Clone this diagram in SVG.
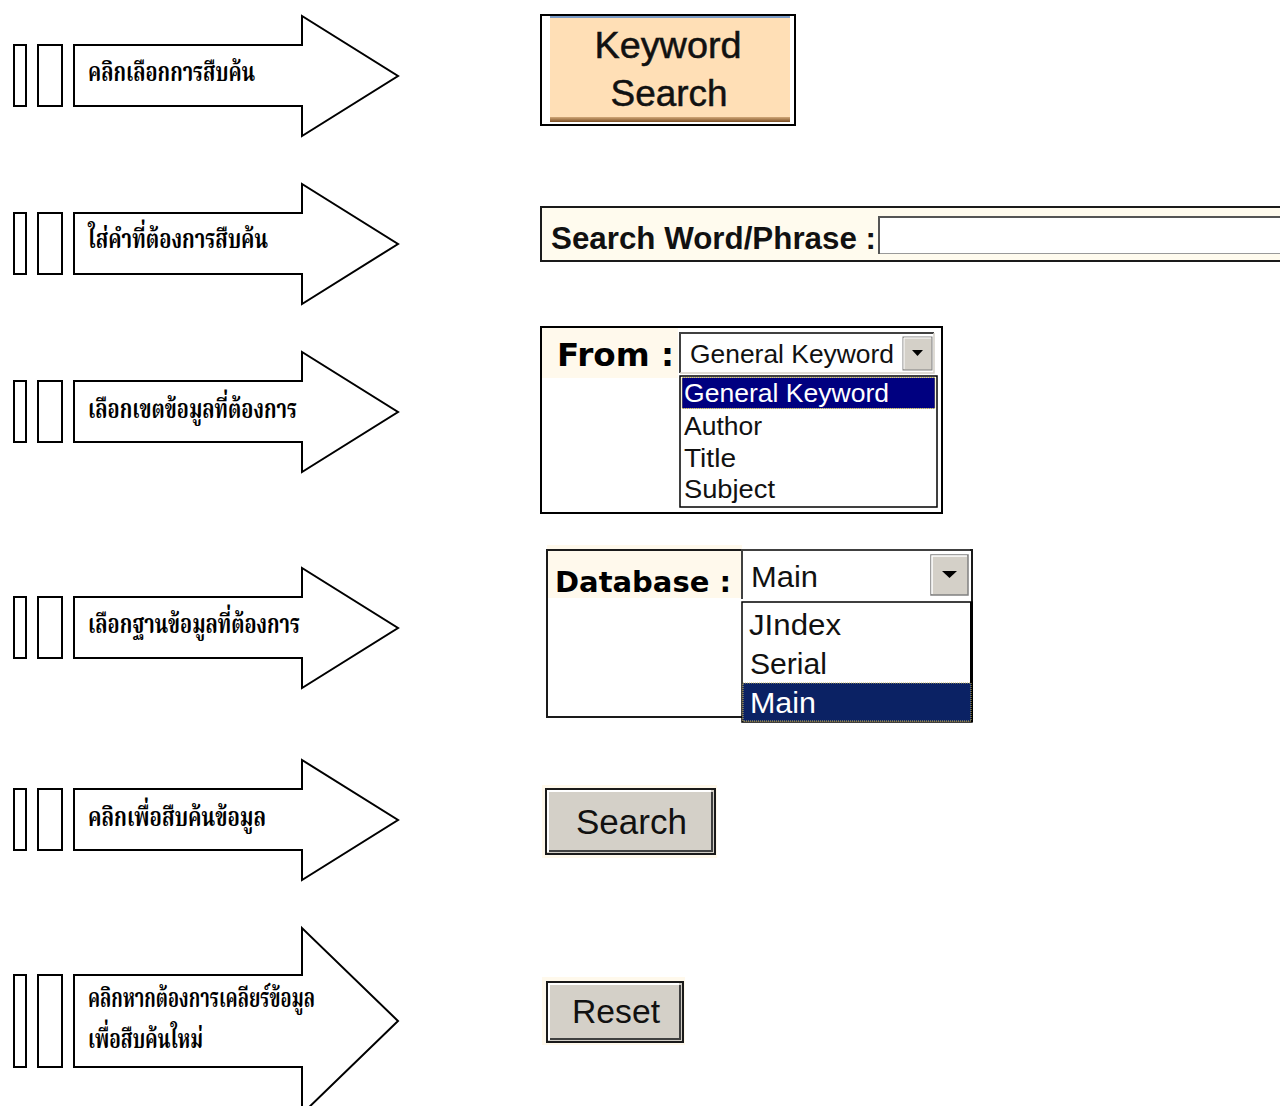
<svg xmlns="http://www.w3.org/2000/svg" width="1280" height="1106" viewBox="0 0 1280 1106">
  <style>
    .arrow { fill: #ffffff; stroke: #000000; stroke-width: 2; }
    .bar { fill: #ffffff; stroke: #000000; stroke-width: 2; }
    .thai { font-family: "Noto Serif Thai", "Noto Sans Thai", "Liberation Serif", serif; font-weight: bold; font-size: 27px; fill: #000000; }
    .ui { font-family: "Liberation Sans", Arial, sans-serif; fill: #111111; }
    .sel { fill: #ffffff; }
    .wide { font-family: "DejaVu Sans", Verdana, sans-serif; font-weight: bold; fill: #000000; }
    .btn { fill: #d4d0c8; }
    .cream { fill: #fff9ec; }
  </style>
  <defs>
    <linearGradient id="brown" x1="0" y1="0" x2="0" y2="1">
      <stop offset="0" stop-color="#d2a878"/>
      <stop offset="1" stop-color="#7a4e24"/>
    </linearGradient>
    <path id="arrowShape" d="M74,45 H302 V16 L398,76 L302,136 V106 H74 Z"/>
    <g id="bars">
      <rect class="bar" x="14" y="45" width="12" height="61"/>
      <rect class="bar" x="38" y="45" width="24" height="61"/>
    </g>
  </defs>

  <!-- step arrows with captions -->
  <g id="step1">
    <use href="#bars"/>
    <use href="#arrowShape" class="arrow"/>
    <text class="thai" x="88" y="81" textLength="167" lengthAdjust="spacingAndGlyphs">คลิกเลือกการสืบค้น</text>
  </g>
  <g id="step2" transform="translate(0,168)">
    <use href="#bars"/>
    <use href="#arrowShape" class="arrow"/>
    <text class="thai" x="88" y="80" textLength="180" lengthAdjust="spacingAndGlyphs">ใส่คำที่ต้องการสืบค้น</text>
  </g>
  <g id="step3" transform="translate(0,336)">
    <use href="#bars"/>
    <use href="#arrowShape" class="arrow"/>
    <text class="thai" x="88" y="82" textLength="209" lengthAdjust="spacingAndGlyphs">เลือกเขตข้อมูลที่ต้องการ</text>
  </g>
  <g id="step4" transform="translate(0,552)">
    <use href="#bars"/>
    <use href="#arrowShape" class="arrow"/>
    <text class="thai" x="88" y="81" textLength="212" lengthAdjust="spacingAndGlyphs">เลือกฐานข้อมูลที่ต้องการ</text>
  </g>
  <g id="step5" transform="translate(0,744)">
    <use href="#bars"/>
    <use href="#arrowShape" class="arrow"/>
    <text class="thai" x="88" y="82" textLength="178" lengthAdjust="spacingAndGlyphs">คลิกเพื่อสืบค้นข้อมูล</text>
  </g>
  <g id="step6">
    <rect class="bar" x="14" y="975" width="12" height="92"/>
    <rect class="bar" x="38" y="975" width="24" height="92"/>
    <path class="arrow" d="M74,975 H302 V928 L398,1021 L302,1114 V1067 H74 Z"/>
    <text class="thai" x="88" y="1007" textLength="227" lengthAdjust="spacingAndGlyphs">คลิกหากต้องการเคลียร์ข้อมูล</text>
    <text class="thai" x="88" y="1048" textLength="115" lengthAdjust="spacingAndGlyphs">เพื่อสืบค้นใหม่</text>
  </g>

  <!-- Keyword Search tab -->
  <g id="keyword-search">
    <rect x="541" y="15" width="254" height="110" fill="#ffffff" stroke="#000000" stroke-width="2"/>
    <rect x="550" y="18" width="240" height="100" fill="#ffdfb6"/>
    <rect x="550" y="16" width="240" height="2" fill="#7b9cc8"/>
    <rect x="550" y="117" width="240" height="5" fill="url(#brown)"/>
    <text class="ui" x="668" y="58" font-size="37" text-anchor="middle" stroke="#111111" stroke-width="0.5" textLength="147" lengthAdjust="spacingAndGlyphs">Keyword</text>
    <text class="ui" x="669" y="106" font-size="37" text-anchor="middle" stroke="#111111" stroke-width="0.5" textLength="117" lengthAdjust="spacingAndGlyphs">Search</text>
  </g>

  <!-- search phrase input -->
  <g id="search-phrase">
    <rect x="541" y="207" width="750" height="54" fill="#fffbee" stroke="#1a1a1a" stroke-width="2"/>
    <text class="ui" x="551" y="249" font-size="31" font-weight="bold" textLength="325" lengthAdjust="spacingAndGlyphs">Search Word/Phrase :</text>
    <rect x="879" y="217" width="410" height="37" fill="#ffffff"/>
    <path d="M879,254 V217 H1290" fill="none" stroke="#555555" stroke-width="2"/>
    <path d="M880,253.5 H1290" fill="none" stroke="#9a9a9a" stroke-width="1"/>
  </g>

  <!-- From field selector -->
  <g id="from-select">
    <rect x="541" y="327" width="401" height="186" fill="#ffffff" stroke="#000000" stroke-width="2"/>
    <rect class="cream" x="542" y="328" width="136" height="50"/>
    <text class="wide" x="557" y="366" font-size="32" textLength="117" lengthAdjust="spacingAndGlyphs">From :</text>
    <rect x="680" y="333" width="254" height="40" fill="#ffffff"/>
    <path d="M680,373 V333 H934" fill="none" stroke="#404040" stroke-width="2"/>
    <path d="M680,373 H934 V333" fill="none" stroke="#d4d0c8" stroke-width="1.5"/>
    <rect class="btn" x="903" y="337" width="29" height="33" stroke="#808080" stroke-width="1"/>
    <path d="M904,369 V338 H931" fill="none" stroke="#ffffff" stroke-width="1"/>
    <polygon points="912,350 923,350 917.5,356" fill="#000000"/>
    <text class="ui" x="690" y="363" font-size="26" textLength="204" lengthAdjust="spacingAndGlyphs">General Keyword</text>
    <rect x="680" y="376" width="257" height="131" fill="#ffffff" stroke="#000000" stroke-width="1.5"/>
    <rect x="682" y="377.5" width="253" height="31" fill="#000080" stroke="#e8d85a" stroke-width="1" stroke-dasharray="1 1"/>
    <text class="ui sel" x="684" y="402" font-size="26" textLength="205" lengthAdjust="spacingAndGlyphs">General Keyword</text>
    <text class="ui" x="684" y="435" font-size="26" textLength="78" lengthAdjust="spacingAndGlyphs">Author</text>
    <text class="ui" x="684" y="467" font-size="26" textLength="52" lengthAdjust="spacingAndGlyphs">Title</text>
    <text class="ui" x="684" y="498" font-size="26" textLength="91" lengthAdjust="spacingAndGlyphs">Subject</text>
  </g>

  <!-- Database selector -->
  <g id="database-select">
    <rect class="cream" x="547" y="545" width="195" height="53"/>
    <rect x="547" y="550" width="425" height="167" fill="none" stroke="#1a1a1a" stroke-width="2"/>
    <rect x="548" y="599" width="193" height="117" fill="#ffffff"/>
    <text class="wide" x="555" y="592" font-size="29" textLength="176" lengthAdjust="spacingAndGlyphs">Database :</text>
    <rect x="742" y="550" width="228" height="49" fill="#ffffff"/>
    <path d="M742,599 V550 H970" fill="none" stroke="#404040" stroke-width="2"/>
    <rect class="btn" x="931" y="555" width="37" height="40" stroke="#808080" stroke-width="1.5"/>
    <path d="M932,594 V556 H967" fill="none" stroke="#ffffff" stroke-width="1.5"/>
    <polygon points="942,571 957,571 949.5,578" fill="#000000"/>
    <text class="ui" x="751" y="587" font-size="30" textLength="67" lengthAdjust="spacingAndGlyphs">Main</text>
    <rect x="742" y="602" width="230" height="120" fill="#ffffff" stroke="#000000" stroke-width="1.5"/>
    <rect x="970" y="602" width="3" height="120" fill="#000000"/>
    <rect x="743" y="683" width="228" height="38" fill="#0b2264" stroke="#c8b860" stroke-width="1" stroke-dasharray="1 1"/>
    <text class="ui" x="749" y="635" font-size="30" textLength="92" lengthAdjust="spacingAndGlyphs">JIndex</text>
    <text class="ui" x="750" y="674" font-size="30" textLength="77" lengthAdjust="spacingAndGlyphs">Serial</text>
    <text class="ui sel" x="750" y="713" font-size="30" textLength="66" lengthAdjust="spacingAndGlyphs">Main</text>
  </g>

  <!-- Search button -->
  <g id="search-button">
    <rect class="cream" x="542" y="785" width="175" height="73"/>
    <rect class="btn" x="546" y="789" width="169" height="65" stroke="#1a1a1a" stroke-width="2"/>
    <path d="M548,852 V791 H711" fill="none" stroke="#ffffff" stroke-width="2"/>
    <path d="M549,851 H712 V792" fill="none" stroke="#404040" stroke-width="2"/>
    <text class="ui" x="576" y="834" font-size="35" textLength="111" lengthAdjust="spacingAndGlyphs">Search</text>
  </g>

  <!-- Reset button -->
  <g id="reset-button">
    <rect class="cream" x="542" y="977" width="143" height="68"/>
    <rect class="btn" x="547" y="982" width="136" height="60" stroke="#1a1a1a" stroke-width="2"/>
    <path d="M549,1040 V984 H679" fill="none" stroke="#ffffff" stroke-width="2"/>
    <path d="M550,1039 H680 V985" fill="none" stroke="#404040" stroke-width="2"/>
    <text class="ui" x="572" y="1023" font-size="34" textLength="88" lengthAdjust="spacingAndGlyphs">Reset</text>
  </g>
</svg>
